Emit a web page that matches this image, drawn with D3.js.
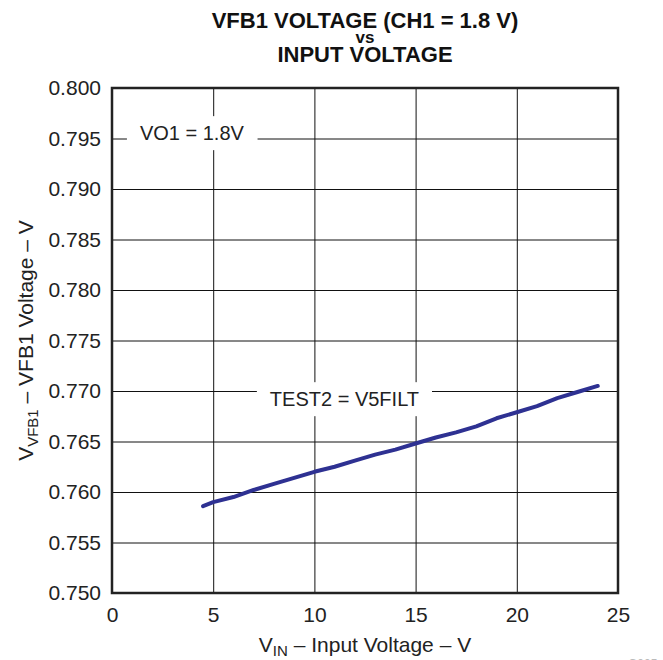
<!DOCTYPE html>
<html>
<head>
<meta charset="utf-8">
<script src="https://cdn.jsdelivr.net/npm/d3@7"></script>
<style>
  body { margin: 0; background: #fff; }
  svg { display: block; font-family: "Liberation Sans", Arial, sans-serif; }
</style>
</head>
<body>
<div id="chart"></div>
<script>
// data
const vin = [4.5, 5, 6, 7, 8, 9, 10, 11, 12, 13, 14, 15, 16, 17, 18, 19, 20, 21, 22, 23, 24];
const vfb1 = [0.7586, 0.7590, 0.7595, 0.7602, 0.7608, 0.7614, 0.7620, 0.7625, 0.7631, 0.7637, 0.7642,
              0.7648, 0.7654, 0.7659, 0.7665, 0.7673, 0.7679, 0.7685, 0.7693, 0.7699, 0.7705];
const xTicks = [0, 5, 10, 15, 20, 25];
const yTicks = d3.range(0.750, 0.8001, 0.005);
const titleLines = ['VFB1 VOLTAGE (CH1 = 1.8 V)', 'vs', 'INPUT VOLTAGE'];
const notes = [
    {text: 'VO1 = 1.8V', x: 1.38, y: 0.79555},
    {text: 'TEST2 = V5FILT', x: 7.8, y: 0.76921}
];

const W = 663, H = 660;
const margin = {top: 88, right: 45, bottom: 67, left: 112};
const w = W - margin.left - margin.right;
const h = H - margin.top - margin.bottom;

const svg = d3.select('#chart').append('svg')
    .attr('width', W)
    .attr('height', H);

const x = d3.scaleLinear().domain([0, 25]).range([0, w]);
const y = d3.scaleLinear().domain([0.750, 0.800]).range([h, 0]);

// title (lines sit tight, as in the original)
const titleY = [28, 43, 62];
titleLines.forEach((t, i) => {
    svg.append('text')
        .attr('x', margin.left + w / 2)
        .attr('y', titleY[i])
        .attr('text-anchor', 'middle')
        .attr('font-weight', 'bold')
        .attr('font-size', i == 1 ? '17px' : '22px')
        .attr('fill', '#111')
        .text(t);
});

const g = svg.append('g').attr('transform', `translate(${margin.left},${margin.top})`);

// grid
g.append('g')
    .call(d3.axisBottom(x).tickValues(xTicks).tickSize(h).tickFormat(''))
    .call(a => a.select('.domain').remove())
    .selectAll('line').attr('stroke', '#111').attr('stroke-width', 1);
g.append('g')
    .call(d3.axisRight(y).tickValues(yTicks).tickSize(w).tickFormat(''))
    .call(a => a.select('.domain').remove())
    .selectAll('line').attr('stroke', '#111').attr('stroke-width', 1);

// annotation boxes knock out the grid
notes.forEach(n => {
    const t = g.append('text')
        .attr('x', x(n.x))
        .attr('y', y(n.y))
        .attr('dy', '0.36em')
        .attr('font-size', '20px')
        .attr('fill', '#222')
        .text(n.text);
    const bb = t.node().getBBox();
    g.insert('rect', () => t.node())
        .attr('x', bb.x - 13)
        .attr('y', bb.y - 6)
        .attr('width', bb.width + 26)
        .attr('height', bb.height + 12)
        .attr('fill', '#fff');
});

// frame
g.append('rect')
    .attr('width', w)
    .attr('height', h)
    .attr('fill', 'none')
    .attr('stroke', '#222')
    .attr('stroke-width', 2.5);

// curve
const line = d3.line()
    .x((d, i) => x(vin[i]))
    .y(d => y(d));
g.append('path')
    .datum(vfb1)
    .attr('d', line)
    .attr('fill', 'none')
    .attr('stroke', '#2e3192')
    .attr('stroke-width', 4)
    .attr('stroke-linejoin', 'round')
    .attr('stroke-linecap', 'round');

// tick labels
g.append('g')
    .attr('transform', `translate(0,${h})`)
    .call(d3.axisBottom(x).tickValues(xTicks).tickSize(0).tickPadding(14).tickFormat(d3.format('d')))
    .call(a => a.select('.domain').remove())
    .selectAll('text')
    .attr('font-size', '21px')
    .attr('font-family', '"Liberation Sans", Arial, sans-serif')
    .attr('fill', '#222');
g.append('g')
    .call(d3.axisLeft(y).tickValues(yTicks).tickSize(0).tickPadding(11).tickFormat(d3.format('.3f')))
    .call(a => a.select('.domain').remove())
    .selectAll('text')
    .attr('font-size', '21px')
    .attr('font-family', '"Liberation Sans", Arial, sans-serif')
    .attr('fill', '#222');

// axis titles
const xl = svg.append('text')
    .attr('x', margin.left + w / 2)
    .attr('y', 652)
    .attr('text-anchor', 'middle')
    .attr('font-size', '21px')
    .attr('fill', '#222');
xl.append('tspan').text('V');
xl.append('tspan').attr('font-size', '15px').attr('dy', 4).text('IN');
xl.append('tspan').attr('dy', -4).text(' \u2013 Input Voltage \u2013 V');

const yl = svg.append('text')
    .attr('transform', `translate(33,${margin.top + h / 2}) rotate(-90)`)
    .attr('text-anchor', 'middle')
    .attr('font-size', '21px')
    .attr('fill', '#222');
yl.append('tspan').text('V');
yl.append('tspan').attr('font-size', '15px').attr('dy', 5).text('VFB1');
yl.append('tspan').attr('dy', -5).text(' \u2013 VFB1 Voltage \u2013 V');

// figure id, cut by the page edge
svg.append('text')
    .attr('x', 628)
    .attr('y', 668)
    .attr('font-size', '12px')
    .attr('fill', '#bbb')
    .text('G005');
</script>
</body>
</html>
